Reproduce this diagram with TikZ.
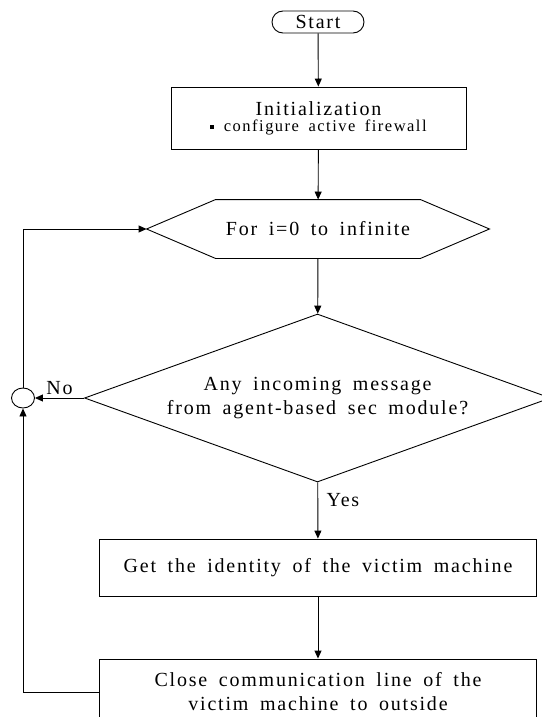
\documentclass[tikz,border=0pt]{standalone}
\usepackage{fontspec}
\setmainfont{Liberation Serif}[LetterSpace=9,WordSpace=1.7]
\usetikzlibrary{arrows.meta}
\usetikzlibrary{calc,shapes.geometric}

\tikzset{
  flow/.style={line width=.9pt, >={Triangle[length=8pt,width=7pt]}},
  txt/.style={font=\fontsize{20}{24}\selectfont},
  term/.style={draw, txt, rectangle, rounded corners=11pt, minimum width=92pt, minimum height=22pt, inner sep=0pt},
  proc/.style={draw, txt, rectangle, align=center, minimum width=437pt, minimum height=57pt, inner sep=0pt},
  test/.style={draw, txt, diamond, aspect=2.77, align=center, minimum width=466pt, minimum height=168pt, inner sep=0pt},
  joint/.style={draw, ellipse, minimum width=23pt, minimum height=20pt, inner sep=0pt}
}

\begin{document}
\begin{tikzpicture}[x=1pt, y=-1pt, flow]
\useasboundingbox (0,0) rectangle (541,717);

\node[term] (start) at (318,22) {Start};
\node[proc, minimum width=295pt, minimum height=62pt] (init) at (318.5,118)
  {\raisebox{-3pt}{Initialization}\\[-5pt]{\fontsize{16.5}{20}\selectfont\raisebox{2.5pt}{\rule{4pt}{4pt}} configure active firewall}};

% loop header, hexagon drawn round a plain node
\node[txt, minimum width=342pt, minimum height=58pt, inner sep=0pt] (loop) at (318,229) {For i=0 to infinite};
\draw (loop.west) -- ($(loop.north west)+(69,0)$) -- ($(loop.north east)+(-69,0)$)
  -- (loop.east) -- ($(loop.south east)+(-69,0)$) -- ($(loop.south west)+(69,0)$) -- cycle;

\node[test] (query) at (317.5,398) {Any incoming message\\from agent-based sec module?};
\node[joint] (join) at (23,398) {};
\node[proc] (ident) at (318,567.5) {Get the identity of the victim machine};
\node[proc, minimum height=66pt] (close) at (318,692) {Close communication line of the\\victim machine to outside};

\draw[->] (start) -- (init);
\draw[->] (init) -- (loop);
\draw[->] (loop) -- (query);
\draw[->] (query) -- node[txt, pos=.32, right=5pt] {Yes} (ident);
\draw[->] (ident) -- (close);
\draw[->] (query.west) -- node[txt, above] {No} (join.east);
\draw[->] (close.west) -| (join.south);
\draw[->] (join.north) |- (loop.west);
\end{tikzpicture}
\end{document}
